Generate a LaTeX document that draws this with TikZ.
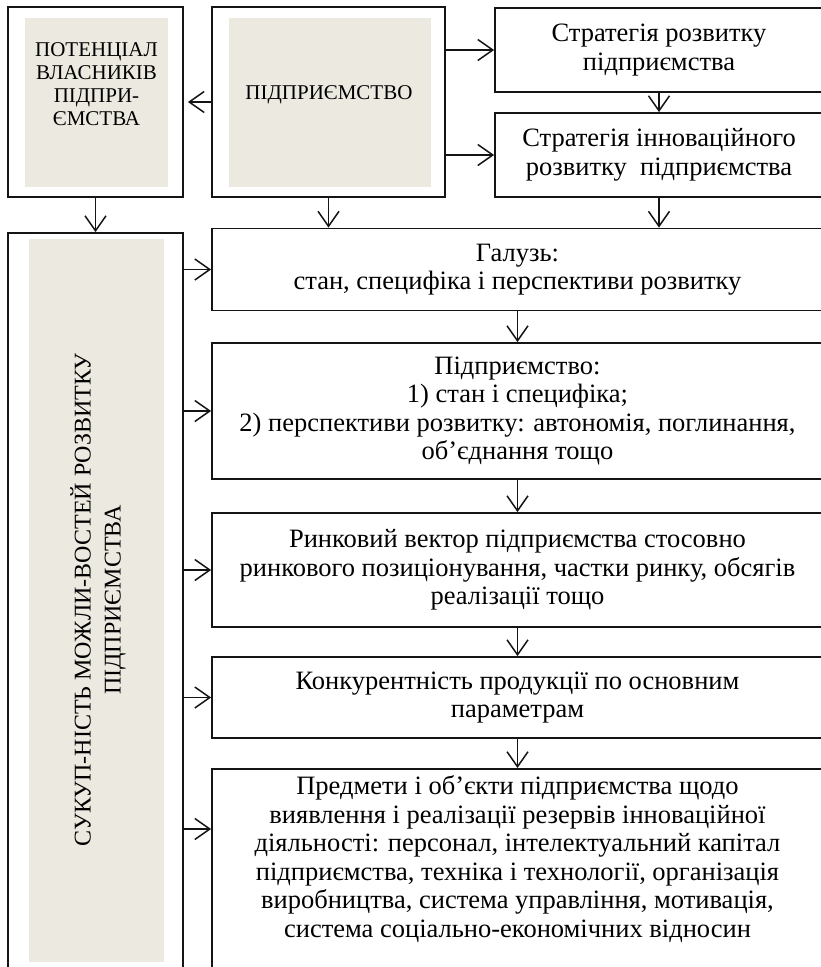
\documentclass[tikz,border=0pt]{standalone}
\usepackage{fontspec}
\setmainfont{Liberation Serif}
\usetikzlibrary{arrows.meta,calc}
\definecolor{beige}{RGB}{236,233,224}
\definecolor{ink}{RGB}{20,20,20}

\begin{document}
\begin{tikzpicture}[x=1pt,y=-1pt,
  frame/.style={draw=ink,line width=1.8pt,fill=white,rectangle,inner sep=0pt},
  panel/.style={fill=beige,rectangle,inner sep=0pt},
  stage/.style={draw=ink,line width=1.8pt,fill=white,rectangle,inner sep=0pt,
                align=center,font=\fontsize{26.5}{28.5}\selectfont},
  strat/.style={stage,font=\fontsize{26.5}{29.3}\selectfont},
  caps/.style={align=center,inner sep=0pt,font=\fontsize{21}{23}\selectfont},
  flow/.style={draw=ink,line width=1.5pt,-{Straight Barb[length=15pt,width=21pt]}},
]
\useasboundingbox (0,0) rectangle (821,967);
\clip (0,0) rectangle (821,967);

% owners' potential
\node[frame,minimum width=175pt,minimum height=190pt] (pot) at (95.5,102) {};
\node[panel,minimum width=143pt,minimum height=169pt] (potfill) at (96.5,102.5) {};
\node[caps] (pottext) at (96.5,84) {ПОТЕНЦІАЛ\\ВЛАСНИКІВ\\ПІДПРИ-\\ЄМСТВА};

% the enterprise
\node[frame,minimum width=233pt,minimum height=190pt] (ent) at (328.5,102) {};
\node[panel,minimum width=202pt,minimum height=169pt] (entfill) at (330,102.5) {};
\node[caps] (enttext) at (329,95) {ПІДПРИЄМСТВО};

% strategies
\node[strat,minimum width=328pt,minimum height=84pt] (sdev) at (659,50)
  {Стратегія розвитку\\підприємства};
\node[strat,minimum width=328pt,minimum height=84pt] (sinn) at (659,155)
  {Стратегія інноваційного\\розвитку\ \ підприємства};

% set of development opportunities
\node[frame,minimum width=175pt,minimum height=780pt] (opp) at (95.5,623) {};
\node[panel,minimum width=135pt,minimum height=723pt] (oppfill) at (96.5,600.5) {};
\node[rotate=90,align=center,inner sep=0pt,font=\fontsize{24}{30}\selectfont]
  (opptext) at (98,600) {СУКУП-НІСТЬ МОЖЛИ-ВОСТЕЙ РОЗВИТКУ\\ПІДПРИЄМСТВА};

% analysis chain
\node[stage,minimum width=611pt,minimum height=82pt] (ind) at (517.5,269.5)
  {Галузь:\\стан, специфіка і перспективи розвитку};
\node[stage,minimum width=611pt,minimum height=136pt] (firm) at (517.5,411)
  {Підприємство:\\1) стан і специфіка;\\2) перспективи розвитку: автономія, поглинання,\\об’єднання тощо};
\node[stage,minimum width=611pt,minimum height=114pt] (mkt) at (517.5,570)
  {Ринковий вектор підприємства стосовно\\ринкового позиціонування, частки ринку, обсягів\\реалізації тощо};
\node[stage,minimum width=611pt,minimum height=81pt] (comp) at (517.5,697.5)
  {Конкурентність продукції по основним\\параметрам};
\node[stage,minimum width=611pt,anchor=north,inner ysep=7pt] (obj) at (517.5,768)
  {\parbox[c][220pt][t]{600pt}{\centering
   Предмети і об’єкти підприємства щодо\\виявлення і реалізації резервів інноваційної\\діяльності: персонал, інтелектуальний капітал\\підприємства, техніка і технології, організація\\виробництва, система управління, мотивація,\\система соціально-економічних відносин}};

% connectors in the top row
\draw[flow,shorten >=4pt] (ent.west) -- (pot.east);
\draw[flow] (ent.east |- sdev.west) -- (sdev.west);
\draw[flow] (ent.east |- sinn.west) -- (sinn.west);
\draw[flow] (sdev.south) -- (sinn.north);
\draw[flow] (sinn.south) -- (sinn.south |- ind.north);
\draw[flow] (ent.south) -- (ent.south |- ind.north);
\draw[flow] (pot.south) -- (opp.north);

% down the chain
\draw[flow] (ind.south) -- (firm.north);
\draw[flow] (firm.south) -- (mkt.north);
\draw[flow] (mkt.south) -- (comp.north);
\draw[flow] (comp.south) -- (obj.north);

% from the opportunities column
\draw[flow] (opp.east |- ind.west) -- (ind.west);
\draw[flow] (opp.east |- firm.west) -- (firm.west);
\draw[flow] (opp.east |- mkt.west) -- (mkt.west);
\draw[flow] (opp.east |- comp.west) -- (comp.west);
\coordinate (objin) at (183,829);
\draw[flow] (objin) -- (objin -| obj.west);
\end{tikzpicture}
\end{document}
